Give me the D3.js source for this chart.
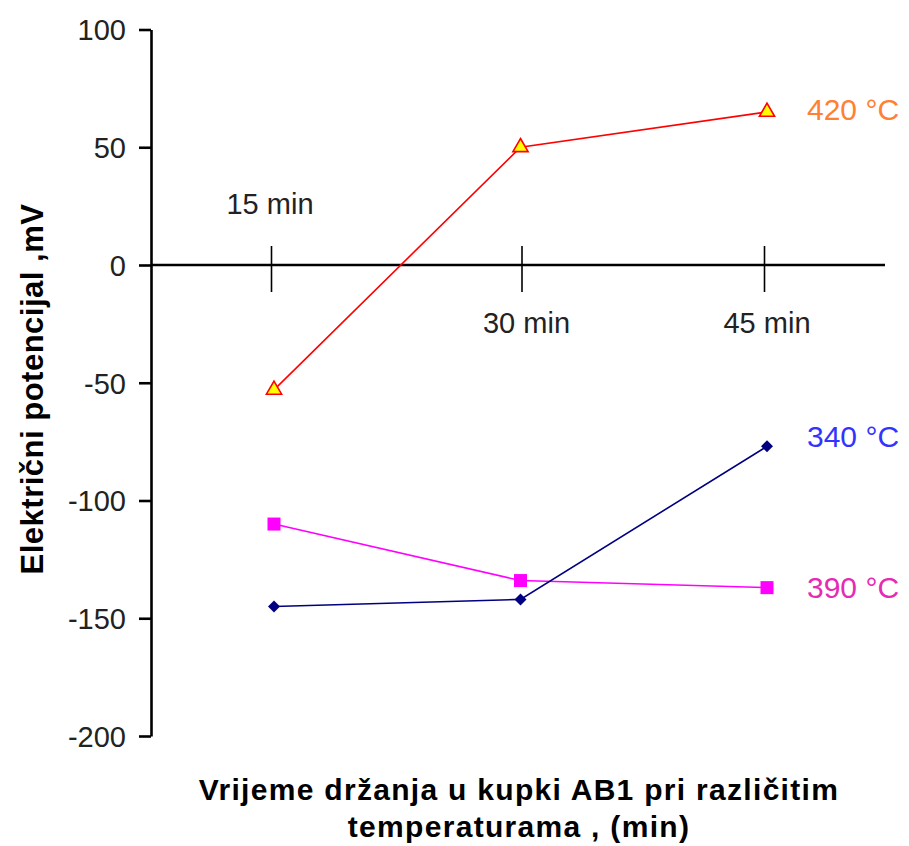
<!DOCTYPE html>
<html>
<head>
<meta charset="utf-8">
<script src="https://cdn.jsdelivr.net/npm/d3@7"></script>
<style>
  html, body { margin: 0; padding: 0; background: #fff; }
  svg { display: block; font-family: Arial, "Liberation Sans", sans-serif; }
</style>
</head>
<body>
<svg id="chart" width="909" height="846"></svg>
<script>
// ---- data ----
const times = [15, 30, 45];
const timeLabels = ["15 min", "30 min", "45 min"];
const yTicks = [100, 50, 0, -50, -100, -150, -200];
const series420 = [-53, 50, 65];
const series390 = [-110, -134, -137];
const series340 = [-145, -142, -77];
const seriesNames = ["420 °C", "340 °C", "390 °C"];
const yTitle = "Električni potencijal ,mV";
const xTitleLines = ["Vrijeme držanja u kupki AB1 pri različitim", "temperaturama , (min)"];

const svg = d3.select("#chart");

const x = d3.scaleLinear().domain([15, 45]).range([274, 767]);
const y = d3.scaleLinear().domain([-200, 100]).range([736, 29.5]);
const axisX = 151;

// ---- y axis ----
const gy = svg.append("g").attr("transform", `translate(${axisX},0)`)
  .call(d3.axisLeft(y).tickValues(yTicks).tickSize(12).tickPadding(14).tickSizeOuter(0).tickFormat(d => String(d)));
gy.select(".domain").attr("stroke", "#000").attr("stroke-width", 2.6);
gy.selectAll(".tick line").attr("stroke", "#000").attr("stroke-width", 2.6);
gy.selectAll(".tick text").attr("fill", "#222").attr("font-size", 29).attr("font-family", "Arial, 'Liberation Sans', sans-serif")
  .attr("dy", "0.36em").attr("x", -25);

// ---- x axis at y=0 ----
const y0 = y(0);
svg.append("line").attr("x1", axisX).attr("x2", 885).attr("y1", y0).attr("y2", y0)
  .attr("stroke", "#000").attr("stroke-width", 2.6);
const gx = svg.append("g").attr("transform", `translate(0,${y0})`)
  .call(d3.axisBottom(x).tickValues(times).tickSize(27).tickSizeOuter(0).tickFormat(() => ""));
gx.select(".domain").remove();
gx.selectAll(".tick line").attr("y1", -19).attr("stroke", "#000").attr("stroke-width", 1.6)
  .attr("transform", (d, i) => `translate(${[-3, 1, -3][i]},0)`);
gx.selectAll(".tick text").remove();
svg.selectAll("text.xlab").data(times).enter().append("text")
  .attr("class", "xlab")
  .attr("x", (d, i) => x(d) + [-4, 6, 0][i])
  .attr("y", (d, i) => i === 0 ? y0 - 61 : y0 + 58)
  .attr("dy", "0.36em")
  .attr("text-anchor", "middle")
  .attr("font-size", 29)
  .attr("fill", "#222")
  .text((d, i) => timeLabels[i]);

// ---- lines ----
const line = d3.line().x((d, i) => x(times[i])).y(d => y(d));

svg.append("path").datum(series420).attr("d", line).attr("fill", "none").attr("stroke", "#FF0000").attr("stroke-width", 1.6);
svg.append("path").datum(series390).attr("d", line).attr("fill", "none").attr("stroke", "#FF00FF").attr("stroke-width", 1.6);
svg.append("path").datum(series340).attr("d", line).attr("fill", "none").attr("stroke", "#000080").attr("stroke-width", 1.6);

// markers
svg.selectAll("path.tri").data(series420).enter().append("path")
  .attr("class", "tri")
  .attr("d", d3.symbol().type(d3.symbolTriangle).size(100))
  .attr("transform", (d, i) => `translate(${x(times[i])},${y(d)})`)
  .attr("fill", "#FFFF00").attr("stroke", "#FF0000").attr("stroke-width", 1.6);

svg.selectAll("rect.sq").data(series390).enter().append("rect")
  .attr("class", "sq")
  .attr("x", (d, i) => x(times[i]) - 6.5).attr("y", d => y(d) - 6.5)
  .attr("width", 13).attr("height", 13)
  .attr("fill", "#FF00FF");

svg.selectAll("path.dia").data(series340).enter().append("path")
  .attr("class", "dia")
  .attr("d", d3.symbol().type(d3.symbolSquare).size(72))
  .attr("transform", (d, i) => `translate(${x(times[i])},${y(d)}) rotate(45)`)
  .attr("fill", "#000080");

// ---- series labels ----
const labelData = [
  { t: seriesNames[0], v: series420[2], c: "#FF8033", dy: -3 },
  { t: seriesNames[1], v: series340[2], c: "#3333FF", dy: -10 },
  { t: seriesNames[2], v: series390[2], c: "#E62AB4", dy: 0 }
];
svg.selectAll("text.slab").data(labelData).enter().append("text")
  .attr("class", "slab")
  .attr("x", 807)
  .attr("y", d => y(d.v) + d.dy)
  .attr("dy", "0.36em")
  .attr("font-size", 30)
  .attr("fill", d => d.c)
  .text(d => d.t);

// ---- axis titles ----
svg.append("text")
  .attr("transform", "translate(43,389) rotate(-90)")
  .attr("text-anchor", "middle")
  .attr("font-size", 31).attr("font-weight", "bold").attr("fill", "#000")
  .attr("letter-spacing", 0.5)
  .text(yTitle);

svg.selectAll("text.xt").data(xTitleLines).enter().append("text")
  .attr("class", "xt")
  .attr("x", 519)
  .attr("y", (d, i) => 800 + i * 37)
  .attr("text-anchor", "middle")
  .attr("font-size", 30).attr("font-weight", "bold").attr("fill", "#000")
  .attr("letter-spacing", 1.3)
  .text(d => d);
</script>
</body>
</html>
